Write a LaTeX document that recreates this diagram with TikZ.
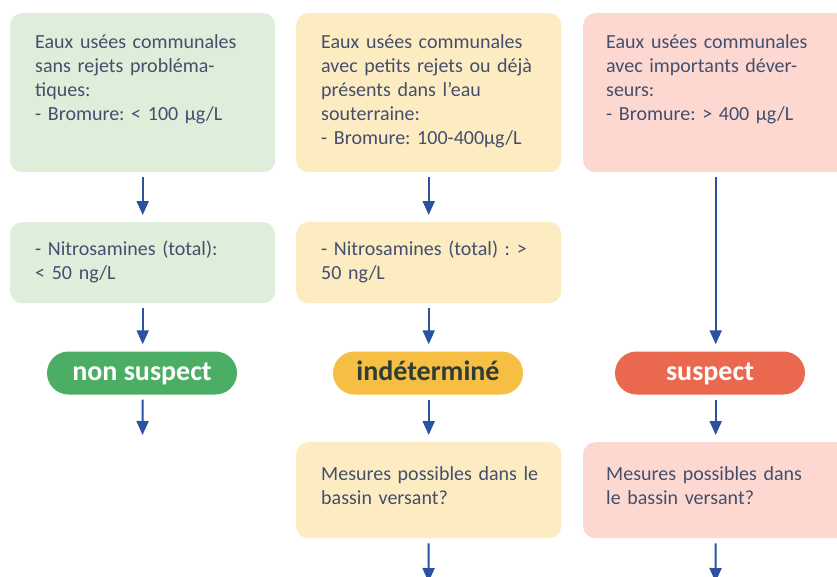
\documentclass[tikz,border=0pt]{standalone}
\usepackage{fontspec}
\setmainfont{Carlito}
\usetikzlibrary{arrows.meta}
\definecolor{txt}{HTML}{434F6D}
\definecolor{gbox}{HTML}{DFEEDB}
\definecolor{ybox}{HTML}{FDECC2}
\definecolor{rbox}{HTML}{FCD8D0}
\definecolor{gpill}{HTML}{4BAE64}
\definecolor{ypill}{HTML}{F6BE42}
\definecolor{rpill}{HTML}{EA684D}
\definecolor{arrblue}{HTML}{2A52A0}
\definecolor{darktxt}{HTML}{2E3D34}
\frenchspacing
\hfuzz=50pt
\begin{document}
\begin{tikzpicture}[x=1pt,y=-1pt,
  every node/.style={font=\fontsize{20}{24}\selectfont},
  infobox/.style={rectangle, rounded corners=12pt, anchor=north west,
    minimum width=265pt, text width=215pt, align=left, inner xsep=25pt,
    text height=17pt, text=txt},
  toprow/.style={infobox, inner ysep=18pt, text depth=106pt},
  midrow/.style={infobox, inner ysep=16pt, text depth=32pt},
  lowrow/.style={infobox, inner ysep=21pt, text depth=37pt},
  pill/.style={rectangle, rounded corners=21.5pt, minimum width=190pt,
    minimum height=43pt, inner sep=0pt, text height=19pt, text depth=5pt,
    font=\fontsize{28}{32}\selectfont\bfseries},
  arr/.style={draw=arrblue, line width=2pt,
    -{Triangle[width=12pt,length=14pt]}, shorten <=5pt, shorten >=7pt}
]
\useasboundingbox (0,0) rectangle (837,576);
\clip (0,0) rectangle (837,576);
\fill[white] (0,0) rectangle (837,576);

% top row
\node[toprow, fill=gbox] (g1) at (10,13)
  {Eaux usées communales\\sans rejets probléma-\\tiques:\\- Bromure: < 100 µg/L};
\node[toprow, fill=ybox] (y1) at (296,13)
  {Eaux usées communales\\\mbox{avec petits rejets ou déjà}\\présents dans l’eau\\souterraine:\\- Bromure: 100-400µg/L};
\node[toprow, fill=rbox, inner xsep=23pt, text width=219pt] (r1) at (583,13)
  {Eaux usées communales\\avec importants déver-\\seurs:\\- Bromure: > 400 µg/L};

% middle row
\node[midrow, fill=gbox] (g2) at (10,222)
  {- Nitrosamines (total):\\< 50 ng/L};
\node[midrow, fill=ybox] (y2) at (296,222)
  {\mbox{- Nitrosamines (total) : >}\\50 ng/L};

% pills
\node[pill, fill=gpill, text=white] (ns) at (142,373) {non suspect};
\node[pill, fill=ypill, text=darktxt] (ind) at (428,373) {indéterminé};
\node[pill, fill=rpill, text=white] (sus) at (710,373) {suspect};

% bottom row
\node[lowrow, fill=ybox] (y3) at (296,442)
  {\mbox{Mesures possibles dans le}\\bassin versant?};
\node[lowrow, fill=rbox, inner xsep=23pt, text width=219pt] (r3) at (583,442)
  {Mesures possibles dans\\le bassin versant?};

% free ends
\coordinate (e1) at (142.5,442);
\coordinate (e2) at (428.5,582);
\coordinate (e3) at (715.5,582);

% arrows
\draw[arr] (g1.south) -- (g2.north);
\draw[arr] (g2.south) -- (g2.south |- ns.north);
\draw[arr] (g2.south |- ns.south) -- (e1);
\draw[arr] (y1.south) -- (y2.north);
\draw[arr] (y2.south) -- (y2.south |- ind.north);
\draw[arr] (ind.south -| y3.north) -- (y3.north);
\draw[arr, shorten >=0pt] (y3.south) -- (e2);
\draw[arr] (r1.south) -- (r1.south |- sus.north);
\draw[arr] (sus.south -| r3.north) -- (r3.north);
\draw[arr, shorten >=0pt] (r3.south) -- (e3);
\end{tikzpicture}
\end{document}
